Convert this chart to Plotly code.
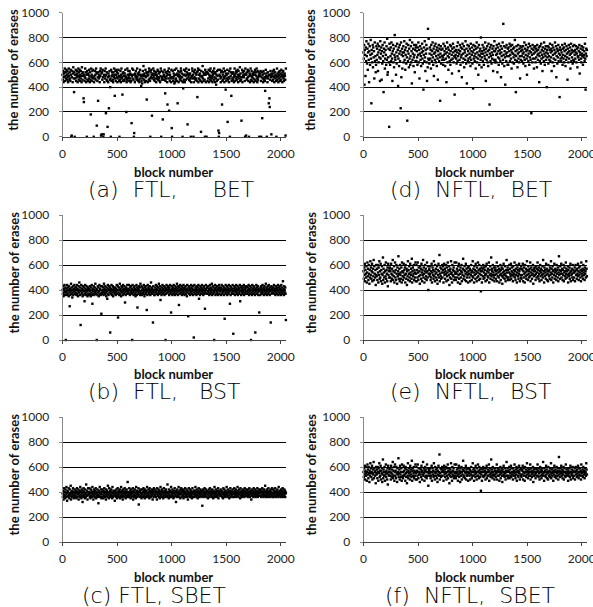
import plotly.graph_objects as go

W, H = 593, 607

N_BLOCKS = 2048
X_TICKS = [0, 500, 1000, 1500, 2000]
Y_TICKS = [0, 200, 400, 600, 800, 1000]
NB = "\u00a0"
CAPTIONS = ["(a)" + NB * 2 + "FTL," + NB * 5 + "BET", "(b)" + NB * 2 + "FTL," + NB * 3 + "BST",
            "(c)" + NB + "FTL," + NB + "SBET",
            "(d)" + NB * 2 + "NFTL," + NB * 2 + "BET", "(e)" + NB * 2 + "NFTL," + NB * 2 + "BST",
            "(f)" + NB * 2 + "NFTL," + NB * 2 + "SBET"]

ERASES_FTL_BET = """
50 46 53 44 51 48 52 55 45 49 52 47 54 50 46 53 48 44 51 55 49 46 52 47 45 54 50 0 1 48 53 44 51 56 47 36 52 0 50 47
54 45 50 48 53 51 44 49 55 46 52 48 54 50 45 47 53 49 44 56 51 46 49 52 31 28 50 45 48 55 47 52 44 50 0 53 46 51 45 50
47 54 49 44 52 46 18 55 48 50 45 53 47 54 48 0 44 49 47 53 50 46 55 52 9 51 45 48 29 52 47 50 48 44 53 49 55 1 51 2
52 46 54 48 0 2 50 44 53 47 49 55 19 50 46 52 45 8 48 44 51 23 49 53 46 40 47 0 54 45 49 52 50 46 44 52 48 55 50 33
47 53 45 50 54 48 52 44 47 51 54 49 45 0 48 46 53 44 50 55 47 48 34 51 45 52 49 46 45 51 49 54 47 48 20 44 46 55 50 47
53 48 50 45 53 47 51 44 50 45 11 49 55 47 50 54 46 0 3 50 44 51 48 53 49 46 47 55 48 51 45 50 46 52 44 50 54 47 49 41
45 50 43 47 53 49 57 50 46 51 44 49 54 48 45 52 30 51 49 44 52 50 46 55 53 47 45 0 52 48 54 50 17 47 51 50 55 48 46 53
45 50 51 47 52 44 50 49 47 54 46 53 48 51 47 45 52 44 49 55 0 53 48 46 47 14 52 49 50 46 54 48 35 45 52 47 49 51 44 26
53 50 47 55 21 52 45 50 48 47 44 54 7 0 48 53 45 47 51 49 43 54 44 50 46 47 55 50 45 51 27 49 53 44 50 48 52 46 49 47
55 53 45 51 48 0 44 39 50 46 54 50 44 53 49 46 55 50 52 47 10 50 51 48 54 46 50 45 51 47 0 44 48 49 55 53 47 50 0 44
52 48 54 47 46 51 47 50 45 52 32 53 55 44 47 50 54 46 51 49 45 4 53 48 44 49 57 47 52 45 50 51 46 0 54 50 44 52 0 51
52 45 51 47 54 44 50 48 53 46 55 49 45 47 52 48 44 50 53 51 46 55 48 52 44 51 47 42 50 45 53 49 46 54 5 0 3 50 49 54
47 44 52 48 53 26 45 50 46 52 55 48 44 47 53 49 38 51 45 50 47 54 12 46 51 48 44 53 47 0 55 49 52 33 45 51 47 51 46 52
48 44 50 55 49 45 51 47 53 52 46 48 54 50 44 53 49 47 50 56 45 51 48 46 13 48 54 44 52 49 50 48 53 50 45 0 55 51 1 50
47 46 52 54 48 45 53 0 49 51 44 50 55 46 49 53 45 48 51 50 47 44 52 50 46 54 50 45 52 49 55 47 44 53 46 48 52 50 0 49
51 49 53 45 0 48 52 15 50 47 44 53 46 51 48 45 37 47 54 49 51 0 48 44 52 47 49 27 50 31 24 46 53 50 48 2 51 45 49 53
46 51 48 54 44 49 52 47 50 45 0 48 55 46 51 49 44 52 47 50 53 45 48 51 46 54 49 50 44 52 48 53 47 45 50 51 49 46 1 55
"""

ERASES_FTL_BST = """
40 37 43 35 41 38 44 36 39 42 0 38 41 36 44 39 37 42 40 35 43 38 27 41 36 39 45 37 42 40 34 38 43 36 41 39 44 37 40 42
38 42 36 40 44 37 41 35 39 43 38 46 40 36 42 12 39 44 37 41 38 35 43 40 36 42 39 31 37 44 41 38 36 43 40 39 35 42 37 41
41 36 39 43 37 40 35 42 38 44 36 29 41 39 37 43 40 36 42 38 45 39 37 41 0 40 36 43 38 42 35 39 44 37 41 40 36 43 21 38
37 43 40 38 42 36 45 39 41 37 43 38 40 35 42 39 33 37 44 41 36 40 43 38 42 6 39 37 41 44 36 40 38 43 35 42 39 41 37 40
42 38 36 41 39 44 37 40 43 18 38 42 36 40 45 37 41 39 35 43 38 42 40 36 44 39 37 41 43 38 30 40 36 42 39 41 37 44 38 40
39 41 44 37 40 36 42 38 43 39 37 41 0 44 38 40 36 42 39 43 37 41 35 40 38 44 36 42 26 39 41 37 43 40 38 42 36 45 39 37
43 36 40 42 38 41 37 44 39 35 42 40 37 43 38 41 24 39 36 44 40 42 38 37 41 43 39 36 40 46 38 42 37 41 39 14 43 38 40 36
36 40 42 38 44 39 41 37 43 40 36 42 38 45 39 37 41 43 32 40 38 36 42 39 44 37 41 40 38 43 36 42 39 0 41 37 44 40 38 42
40 43 38 41 36 42 39 44 37 40 22 38 43 41 36 39 42 37 44 40 38 41 36 43 39 37 42 40 45 38 41 36 43 39 28 42 37 40 44 38
41 38 43 36 40 42 37 39 44 41 38 36 42 40 43 37 39 41 35 44 38 40 19 42 37 43 39 41 36 40 38 44 42 37 39 41 43 36 40 2
38 44 40 37 42 39 41 36 43 38 40 42 37 44 39 33 41 38 36 43 40 42 37 39 44 41 38 40 36 42 43 37 39 25 41 38 44 40 37 42
42 37 39 43 38 41 36 40 44 37 42 39 41 38 45 36 40 43 37 42 39 0 38 41 44 36 40 42 37 39 43 38 41 36 40 42 44 37 39 41
39 42 36 41 44 37 40 38 43 39 41 36 42 17 40 38 44 37 41 39 43 36 42 40 38 37 44 41 39 29 43 36 40 42 38 41 37 44 39 5
37 41 43 39 36 42 40 38 44 41 37 39 43 36 40 42 38 41 37 44 31 39 42 36 40 43 38 41 37 39 42 44 36 40 38 43 41 37 42 39
43 39 37 42 40 38 44 36 41 39 43 37 40 0 42 38 36 44 41 39 37 43 40 42 38 36 6 41 39 44 37 42 40 38 43 36 41 39 22 40
40 36 42 38 43 41 37 39 44 40 38 42 36 41 43 39 37 40 45 38 42 36 41 39 43 37 40 44 38 41 36 42 39 14 40 43 37 41 38 42
38 42 40 44 37 39 41 36 43 38 40 42 37 41 39 44 36 40 42 38 43 37 41 39 36 44 40 42 38 37 47 39 41 36 43 40 38 42 37 16
"""

ERASES_FTL_SBET = """
39 36 41 34 38 43 37 40 35 42 38 36 44 39 33 41 37 40 36 43 38 35 42 39 37 45 34 40 38 36 41 39 43 37 35 40 38 42 36 39
37 41 35 39 43 36 40 38 42 34 39 37 41 36 44 38 40 35 42 37 39 32 41 36 43 38 40 37 35 42 39 36 46 38 41 37 34 40 43 38
40 38 43 36 39 35 42 37 41 39 36 44 38 40 34 37 42 39 36 41 38 43 35 40 37 39 42 36 38 31 41 37 40 44 36 39 38 42 35 40
36 42 38 40 35 41 37 43 39 36 40 38 34 42 37 41 39 36 45 38 40 35 43 37 39 41 36 38 42 40 37 35 44 39 36 41 38 40 37 33
41 37 39 36 42 38 35 40 43 37 39 41 36 38 42 35 40 37 44 39 36 41 38 34 42 37 40 39 36 43 38 41 35 39 37 42 40 36 48 38
38 40 36 43 37 39 41 35 38 42 36 40 39 37 43 34 41 38 36 40 42 37 39 35 44 38 41 36 40 37 39 43 30 38 41 36 40 42 37 39
35 39 42 38 40 36 43 37 41 39 35 42 38 40 36 41 37 44 39 36 38 42 40 37 35 43 39 41 36 38 40 37 42 39 34 41 38 36 43 40
42 38 37 40 36 41 39 34 43 38 40 37 42 36 39 41 35 38 44 40 37 39 42 36 41 38 35 40 43 37 39 36 41 38 40 42 37 39 36 46
37 40 39 35 42 38 36 41 37 40 44 36 39 38 42 37 40 35 41 39 36 43 38 40 37 32 41 39 36 42 38 40 37 44 36 39 41 38 35 42
39 43 36 41 38 40 37 42 35 39 41 38 36 43 40 37 39 42 38 36 41 34 40 38 43 37 39 36 42 40 38 41 37 35 39 43 36 40 38 41
36 39 41 38 44 37 40 36 42 38 39 35 41 37 43 39 36 40 38 42 37 41 39 36 40 29 38 42 37 41 39 36 43 38 40 37 42 39 36 40
41 38 35 40 37 42 39 36 43 40 38 41 37 39 36 42 38 40 35 41 39 37 44 36 40 38 42 39 37 41 36 40 38 43 35 39 41 37 40 38
38 42 37 39 41 36 40 38 35 43 39 37 42 40 38 36 41 39 37 44 38 40 36 42 39 37 41 35 40 38 43 36 39 41 37 40 38 42 36 39
40 36 43 38 39 41 37 42 36 40 38 39 44 37 41 36 39 42 38 40 35 43 37 39 41 38 36 40 42 37 39 38 41 36 43 40 37 39 42 38
37 41 39 36 42 38 40 37 43 39 36 41 38 40 34 42 37 39 41 38 36 43 40 37 39 42 38 36 41 39 37 40 43 38 36 41 39 37 42 40
39 37 42 40 36 41 38 43 37 39 40 36 42 38 41 37 45 39 36 40 38 42 37 41 39 36 43 38 40 37 41 39 36 42 38 40 37 43 39 36
42 38 36 41 39 37 43 40 38 36 41 39 37 42 38 40 36 44 39 37 41 38 40 36 42 39 37 41 38 43 36 40 39 37 42 38 41 36 40 39
"""

ERASES_NFTL_BET = """
68 63 74 42 70 66 49 72 61 77 65 59 71 54 68 75 62 44 69 73 58 66 78 63 27 70 67 60 74 56 72 64 69 47 76 61 65 52 58 73
62 71 66 75 53 68 60 73 64 70 45 77 63 67 72 46 69 59 74 65 61 36 71 68 76 55 63 70 66 58 73 62 79 50 52 64 71 60 8 75
70 58 65 72 61 76 67 63 45 69 74 60 71 56 66 82 64 62 73 50 68 59 75 65 70 41 63 72 57 67 74 61 69 23 76 48 66 71 55 68
65 73 60 68 77 62 70 54 66 72 59 75 64 13 69 61 74 67 56 71 63 78 58 65 73 60 69 43 76 62 67 71 57 64 74 66 52 70 61 72
74 61 69 64 58 72 66 76 60 70 47 67 73 62 65 57 71 68 75 63 59 69 38 66 72 61 77 64 53 70 67 74 60 45 71 56 87 63 79 62
59 67 72 63 70 55 74 66 61 69 76 64 58 71 49 67 73 62 68 75 60 65 70 57 72 63 46 69 66 74 61 71 64 29 67 73 59 70 65 62
71 64 58 75 66 62 69 73 57 67 63 71 44 68 76 60 65 72 54 70 64 67 61 74 58 69 73 62 66 51 71 63 75 68 60 72 65 34 69 64
66 70 63 59 73 68 61 76 65 70 53 67 62 74 69 58 72 64 66 48 71 75 60 67 63 73 56 70 68 62 77 65 59 71 43 66 74 61 69 63
73 60 67 71 64 57 75 62 69 66 72 59 68 39 74 63 70 65 61 73 67 55 71 64 76 60 68 72 63 50 66 74 58 69 65 71 62 80 67 56
64 69 74 61 67 72 58 70 65 63 76 68 45 71 62 66 73 60 69 57 75 64 70 26 67 72 61 65 74 59 68 63 71 66 53 73 62 69 77 60
69 62 71 66 60 74 67 52 72 64 69 58 75 63 70 67 61 73 48 68 65 71 59 76 62 91 66 73 57 69 64 42 72 67 61 74 65 68 58 71
58 72 65 69 75 61 66 73 63 70 55 68 74 60 67 71 64 59 72 66 78 62 69 36 65 73 61 70 56 67 74 63 68 60 71 65 47 73 62 69
72 65 61 70 67 73 59 68 64 76 62 71 57 66 74 69 63 50 70 65 72 61 67 75 58 69 64 73 62 68 19 71 66 60 74 63 70 67 55 72
63 68 73 60 71 64 69 56 74 66 62 70 67 72 44 65 61 73 68 59 75 63 70 66 53 72 64 69 61 76 67 58 71 65 73 62 68 40 70 64
67 73 59 72 65 62 70 75 61 68 64 71 53 69 74 60 66 72 63 57 70 67 76 62 68 73 48 65 71 59 69 64 74 61 67 70 32 72 66 63
70 61 68 64 74 58 71 66 63 72 60 69 75 65 57 70 62 73 67 64 46 71 68 60 74 63 69 66 72 55 67 75 61 70 64 68 59 73 62 69
61 74 66 70 63 68 73 60 67 71 56 65 72 64 69 62 74 51 68 66 71 63 60 73 67 65 70 58 72 64 66 69 61 75 63 38 67 71 65 70
"""

ERASES_NFTL_BST = """
55 49 58 52 61 47 56 53 50 59 46 54 62 51 57 48 60 53 45 56 50 63 52 58 49 55 61 47 54 57 51 64 48 59 53 50 56 44 60 52
51 57 48 60 54 46 58 52 63 49 55 50 61 47 56 53 59 45 52 66 48 57 54 50 60 46 55 51 62 49 56 53 47 58 43 61 52 55 50 57
58 50 55 47 61 53 49 57 52 64 48 55 51 59 46 54 62 50 56 48 60 53 45 58 51 55 67 49 53 57 47 60 52 54 49 58 46 62 55 51
48 54 61 50 56 52 58 46 60 53 49 57 44 55 51 63 48 56 53 59 50 47 61 54 52 57 49 65 46 55 58 51 53 60 48 56 50 54 62 47
53 60 47 56 50 62 54 48 58 51 55 45 59 52 57 49 61 54 47 56 52 64 50 58 53 46 55 60 49 57 51 54 48 62 55 50 59 40 53 56
57 51 53 59 48 55 50 61 46 54 58 52 56 49 63 51 55 47 60 53 57 50 54 48 59 45 56 52 61 50 55 68 47 53 58 51 49 57 54 60
50 56 59 46 54 61 52 57 49 55 53 60 47 58 51 54 62 48 56 52 59 44 55 50 57 53 63 49 54 46 60 52 56 51 58 48 55 62 50 53
54 48 62 53 57 50 55 46 59 52 61 49 56 53 45 58 50 55 60 47 54 52 57 65 49 56 51 59 48 55 53 61 47 57 50 54 52 58 46 55
59 53 50 57 47 56 52 60 54 48 55 51 63 50 57 54 46 59 52 56 49 61 53 55 47 58 50 54 62 51 56 48 60 53 57 49 55 39 52 58
46 55 57 51 60 49 54 58 50 56 52 47 59 53 61 48 55 51 57 50 54 62 46 56 52 59 49 53 66 51 57 55 48 60 52 54 50 58 47 56
52 58 49 55 53 62 47 56 51 59 54 50 57 46 55 52 60 48 56 53 58 51 45 57 54 50 61 52 55 49 59 53 47 56 51 64 54 50 58 48
56 50 54 60 48 57 53 51 61 49 55 58 52 54 47 59 51 56 53 62 50 55 48 57 52 60 46 54 58 51 56 49 53 61 55 47 57 52 50 59
49 57 52 56 61 47 55 50 58 53 46 60 54 51 57 49 55 63 52 56 48 59 53 50 55 57 51 62 47 54 58 52 49 56 53 60 45 55 51 57
58 52 55 48 53 59 50 57 54 62 51 56 49 58 53 47 55 60 51 57 54 48 56 52 59 50 64 53 55 46 58 51 56 54 49 61 52 57 48 55
53 47 60 55 51 56 49 58 52 54 63 48 57 53 50 59 55 46 56 52 61 49 54 57 51 55 48 60 53 56 50 58 47 54 67 52 56 49 59 53
55 61 50 53 57 48 56 52 60 47 54 58 51 55 49 62 53 57 50 55 52 59 46 56 53 51 58 49 54 61 47 55 52 57 53 50 60 48 56 54
50 54 58 47 55 60 52 56 49 57 53 51 61 55 48 58 52 54 59 50 56 47 62 53 55 51 57 49 60 54 52 56 48 58 53 55 50 63 57 51
"""

ERASES_NFTL_SBET = """
56 52 59 54 61 50 57 55 53 60 49 56 62 54 58 51 60 55 48 57 53 63 55 59 52 56 61 50 55 58 54 64 51 59 56 53 57 47 60 55
54 58 51 60 56 49 59 55 63 52 57 53 61 50 57 55 59 48 54 66 51 58 56 53 60 49 56 54 62 52 57 55 50 59 46 61 54 56 53 58
59 53 56 50 61 55 52 58 54 64 51 57 53 60 49 56 62 53 57 51 60 55 48 59 54 56 67 52 55 58 50 61 54 56 52 59 49 62 56 53
51 56 61 53 57 54 59 49 60 55 52 58 47 56 53 63 51 57 55 59 53 50 61 56 54 58 52 65 49 57 59 53 55 60 51 57 53 56 62 50
55 60 50 57 53 62 56 51 59 54 56 48 59 54 58 52 61 56 50 57 54 64 53 59 55 49 57 60 52 58 53 56 51 62 56 53 59 45 55 57
58 53 55 59 51 56 53 61 49 56 59 54 57 52 63 53 56 50 60 55 58 53 56 51 59 48 57 54 61 53 56 70 50 55 59 53 52 58 56 60
53 57 59 49 56 61 54 58 52 56 55 60 50 59 53 56 62 51 57 54 59 47 56 53 58 55 63 52 56 49 60 54 57 53 59 51 56 62 53 55
56 51 62 55 58 53 56 49 59 54 61 52 57 55 48 59 53 56 60 50 56 54 58 65 52 57 53 59 51 56 55 61 50 58 53 56 54 59 49 56
59 55 53 58 50 57 54 60 56 51 56 53 63 53 58 56 49 59 54 57 52 61 55 56 50 59 53 56 62 53 57 51 60 55 58 52 56 41 54 59
49 56 58 53 60 52 56 59 53 57 54 50 59 55 61 51 56 53 58 53 56 62 49 57 54 59 52 55 66 53 58 56 51 60 54 56 53 59 50 57
54 59 52 56 55 62 50 57 53 59 56 53 58 49 56 54 60 51 57 55 59 53 48 58 56 53 61 54 56 52 59 55 50 57 53 64 56 53 59 51
57 53 56 60 51 58 55 53 61 52 56 59 54 56 50 59 53 57 55 62 53 56 51 58 54 60 49 56 59 53 57 52 55 61 56 50 58 54 53 59
52 58 54 57 61 50 56 53 59 55 49 60 56 53 58 52 56 63 54 57 51 59 55 53 56 58 53 62 50 56 59 54 52 57 55 60 48 56 53 58
59 54 56 51 55 59 53 58 56 62 53 57 52 59 55 50 56 60 53 58 56 51 57 54 59 53 64 55 56 49 59 53 57 56 52 61 54 58 51 56
55 50 60 56 53 57 52 59 54 56 63 51 58 55 53 59 56 49 57 54 61 52 56 58 53 56 51 60 55 57 53 59 50 56 68 54 57 52 59 55
56 61 53 55 58 51 57 54 60 50 56 59 53 56 52 62 55 58 53 56 54 59 49 57 55 53 59 52 56 61 50 56 54 58 55 53 60 51 57 56
53 56 59 50 56 60 54 57 52 58 55 53 61 56 51 59 54 56 59 53 57 50 62 55 56 53 58 52 60 56 54 57 51 59 55 56 53 63 58 54
"""

PANEL_DATA = [ERASES_FTL_BET, ERASES_FTL_BST, ERASES_FTL_SBET,
              ERASES_NFTL_BET, ERASES_NFTL_BST, ERASES_NFTL_SBET]


def parse(text):
    return [int(t) * 10 for t in text.split()]


# ---------------- layout (pixel geometry measured on the reference page) ----------------
COLS = [(62.5, 286.0), (363.5, 587.0)]
ROWS = [(12.7, 136.8), (215.0, 340.0), (417.0, 542.0)]
XTITLE_Y = [172.0, 373.5, 577.0]
CAPTION_Y = [189.0, 391.0, 595.0]
YTITLE_X = [13.0, 310.0]
CAPTION_X = [[86.0, 86.0, 80.0], [388.0, 388.0, 383.0]]

TICK_FONT = dict(family="Lato, Open Sans, sans-serif", size=12, color="#222")
TITLE_FONT = dict(family="Lato, Open Sans, sans-serif", size=13, color="#111")
CAP_FONT = dict(family="DejaVu Sans, sans-serif", size=22, color="#000", weight=300)


def px(x):
    return x / W


def py(y):
    return 1 - y / H


fig = go.Figure()
annotations = []
for i in range(6):
    col, row = i // 3, i % 3
    k = i + 1
    xid = "x" if k == 1 else f"x{k}"
    yid = "y" if k == 1 else f"y{k}"
    xname = "xaxis" if k == 1 else f"xaxis{k}"
    yname = "yaxis" if k == 1 else f"yaxis{k}"
    vals = parse(PANEL_DATA[i])
    n = len(vals)
    blocks = [round(j * (N_BLOCKS - 1) / (n - 1)) for j in range(n)]
    fig.add_trace(go.Scatter(
        x=blocks, y=vals, mode="markers", xaxis=xid, yaxis=yid,
        marker=dict(symbol="square", size=2.4, color="#000", line=dict(width=0)),
        cliponaxis=False, showlegend=False, hoverinfo="skip"))

    x0, x1 = COLS[col]
    y0, y1 = ROWS[row]
    fig.update_layout(**{
        xname: dict(domain=[px(x0), px(x1)], anchor=yid, range=[0, N_BLOCKS],
                    tickvals=X_TICKS, ticktext=[str(v) for v in X_TICKS],
                    showgrid=False, zeroline=False, showline=True, automargin=False,
                    ticklabeloverflow="allow",
                    linecolor="#444", linewidth=1, ticks="outside", ticklen=3,
                    tickcolor="#444", tickfont=TICK_FONT, ticklabelstandoff=3),
        yname: dict(domain=[py(y1), py(y0)], anchor=xid, range=[0, 1000],
                    tickvals=Y_TICKS, ticktext=[str(v) for v in Y_TICKS], automargin=False,
                    ticklabeloverflow="allow",
                    showgrid=True, gridcolor="#000", gridwidth=1, zeroline=False,
                    showline=True, linecolor="#888", linewidth=1, ticks="outside",
                    ticklen=3, tickcolor="#888", tickfont=TICK_FONT,
                    ticklabelstandoff=7),
    })
    # inner half of the crossing tick marks on the x axis
    fig.update_layout(**{
        f"xaxis{k + 6}": dict(domain=[px(x0), px(x1)], anchor=yid, overlaying=xid,
                              range=[0, N_BLOCKS], tickvals=X_TICKS, automargin=False,
                              showticklabels=False, showgrid=False, zeroline=False,
                              showline=False, ticks="inside", ticklen=3,
                              tickcolor="#444", side="bottom"),
    })

    annotations.append(dict(x=px((x0 + x1) / 2 - 1), y=py(XTITLE_Y[row]), xref="paper", yref="paper",
                            text="<b>block number</b>", showarrow=False, font=TITLE_FONT,
                            xanchor="center", yanchor="middle"))
    annotations.append(dict(x=px(YTITLE_X[col]), y=py((y0 + y1) / 2 - 5), xref="paper", yref="paper",
                            text="<b>the number of erases</b>", showarrow=False, font=TITLE_FONT,
                            textangle=-90, xanchor="center", yanchor="middle"))
    annotations.append(dict(x=px(CAPTION_X[col][row]), y=py(CAPTION_Y[row]), xref="paper", yref="paper",
                            text=CAPTIONS[i], showarrow=False, font=CAP_FONT,
                            xanchor="left", yanchor="middle"))

fig.update_layout(width=W, height=H, margin=dict(l=0, r=0, t=0, b=0, autoexpand=False),
                  paper_bgcolor="white", plot_bgcolor="white",
                  annotations=annotations, showlegend=False)

# the 593x607 figure fills the page from its top-left corner (no default body margin)
fig.write_html("out.html", config={"displayModeBar": False},
               post_script="document.body.style.margin='0';document.documentElement.style.overflow='hidden';")
